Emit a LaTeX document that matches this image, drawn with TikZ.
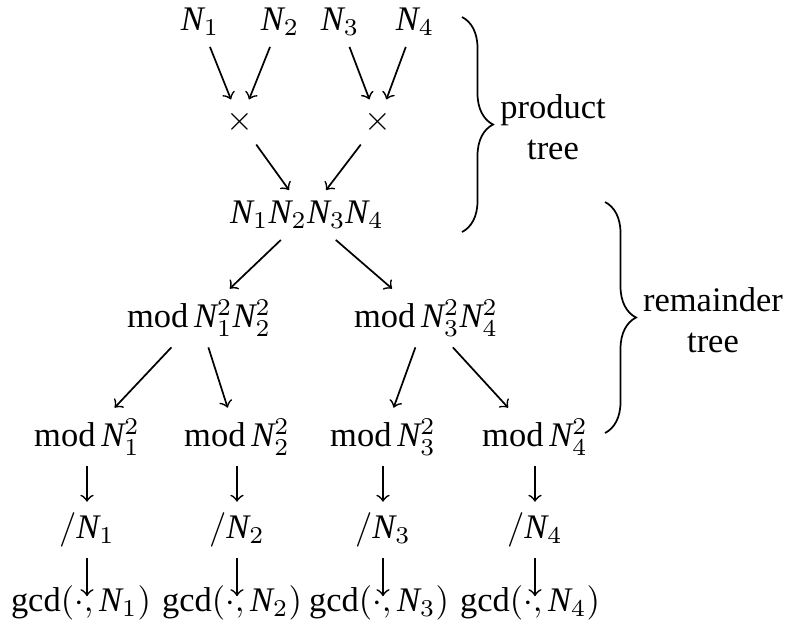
\documentclass[tikz,border=0pt]{standalone}
\usepackage{amsmath}
\usepackage{fontspec}
\setmainfont{Liberation Serif}
\usepackage{tikz}
\usetikzlibrary{arrows, positioning, decorations.pathreplacing, calc}
\newcommand{\Nn}{\mathit{N}}

\begin{document}
\begin{tikzpicture}[
    x=0.29pt, y=-0.29pt,
    every node/.style={font=\fontsize{10}{12}\selectfont},
    term/.style={inner sep=3pt},
    label/.style={align=center},
    arrow/.style={->, line width=0.5pt},
    bracket/.style={decorate, decoration={brace, amplitude=9pt}, line width=0.5pt}
]
    \useasboundingbox (0,0) rectangle (788,628);

    \node[term] (n1) at (200,22) {$\Nn_1$};
    \node[term] (n2) at (280,22) {$\Nn_2$};
    \node[term] (n3) at (340,22) {$\Nn_3$};
    \node[term] (n4) at (415,22) {$\Nn_4$};
    \node[term] (mul12) at (240,122) {$\times$};
    \node[term] (mul34) at (378,122) {$\times$};
    \node[term] (prod) at (307,215) {$\Nn_1\Nn_2\Nn_3\Nn_4$};
    \node[term] (mod12) at (199,318) {$\mathrm{mod}\,\Nn^2_1\Nn^2_2$};
    \node[term] (mod34) at (426,318) {$\mathrm{mod}\,\Nn^2_3\Nn^2_4$};
    \node[term] (mod1) at (87,437) {$\mathrm{mod}\,\Nn^2_1$};
    \node[term] (mod2) at (237,437) {$\mathrm{mod}\,\Nn^2_2$};
    \node[term] (mod3) at (383,437) {$\mathrm{mod}\,\Nn^2_3$};
    \node[term] (mod4) at (535,437) {$\mathrm{mod}\,\Nn^2_4$};
    \node[term] (div1) at (87,530) {$/\Nn_1$};
    \node[term] (div2) at (237,530) {$/\Nn_2$};
    \node[term] (div3) at (383,530) {$/\Nn_3$};
    \node[term] (div4) at (535,530) {$/\Nn_4$};
    \node[term] (gcd1) at (81,603) {$\gcd(\cdot,\Nn_1)$};
    \node[term] (gcd2) at (232,603) {$\gcd(\cdot,\Nn_2)$};
    \node[term] (gcd3) at (379,603) {$\gcd(\cdot,\Nn_3)$};
    \node[term] (gcd4) at (530,603) {$\gcd(\cdot,\Nn_4)$};

    \draw[arrow] (n1) -- (mul12);
    \draw[arrow] (n2) -- (mul12);
    \draw[arrow] (n3) -- (mul34);
    \draw[arrow] (n4) -- (mul34);
    \draw[arrow] (mul12) -- (prod);
    \draw[arrow] (mul34) -- (prod);
    \draw[arrow] (prod) -- (mod12);
    \draw[arrow] (prod) -- (mod34);
    \draw[arrow] (mod12) -- (mod1);
    \draw[arrow] (mod12) -- (mod2);
    \draw[arrow] (mod34) -- (mod3);
    \draw[arrow] (mod34) -- (mod4);
    \draw[arrow] (mod1) -- (div1);
    \draw[arrow] (mod2) -- (div2);
    \draw[arrow] (mod3) -- (div3);
    \draw[arrow] (mod4) -- (div4);
    \draw[arrow, shorten >=2pt] (div1) -- (div1 |- gcd1.center);
    \draw[arrow, shorten >=2pt] (div2) -- (div2 |- gcd2.center);
    \draw[arrow, shorten >=2pt] (div3) -- (div3 |- gcd3.center);
    \draw[arrow, shorten >=2pt] (div4) -- (div4 |- gcd4.center);

    \coordinate (ptop) at (462,17);
    \coordinate (pbot) at (462,232);
    \coordinate (rtop) at (605,202);
    \coordinate (rbot) at (605,433);
    \draw[bracket] (ptop) -- (pbot);
    \draw[bracket] (rtop) -- (rbot);
    \node[label] (ptext) at (553,127) {product\\tree};
    \node[label] (rtext) at (713,320) {remainder\\tree};
\end{tikzpicture}
\end{document}
